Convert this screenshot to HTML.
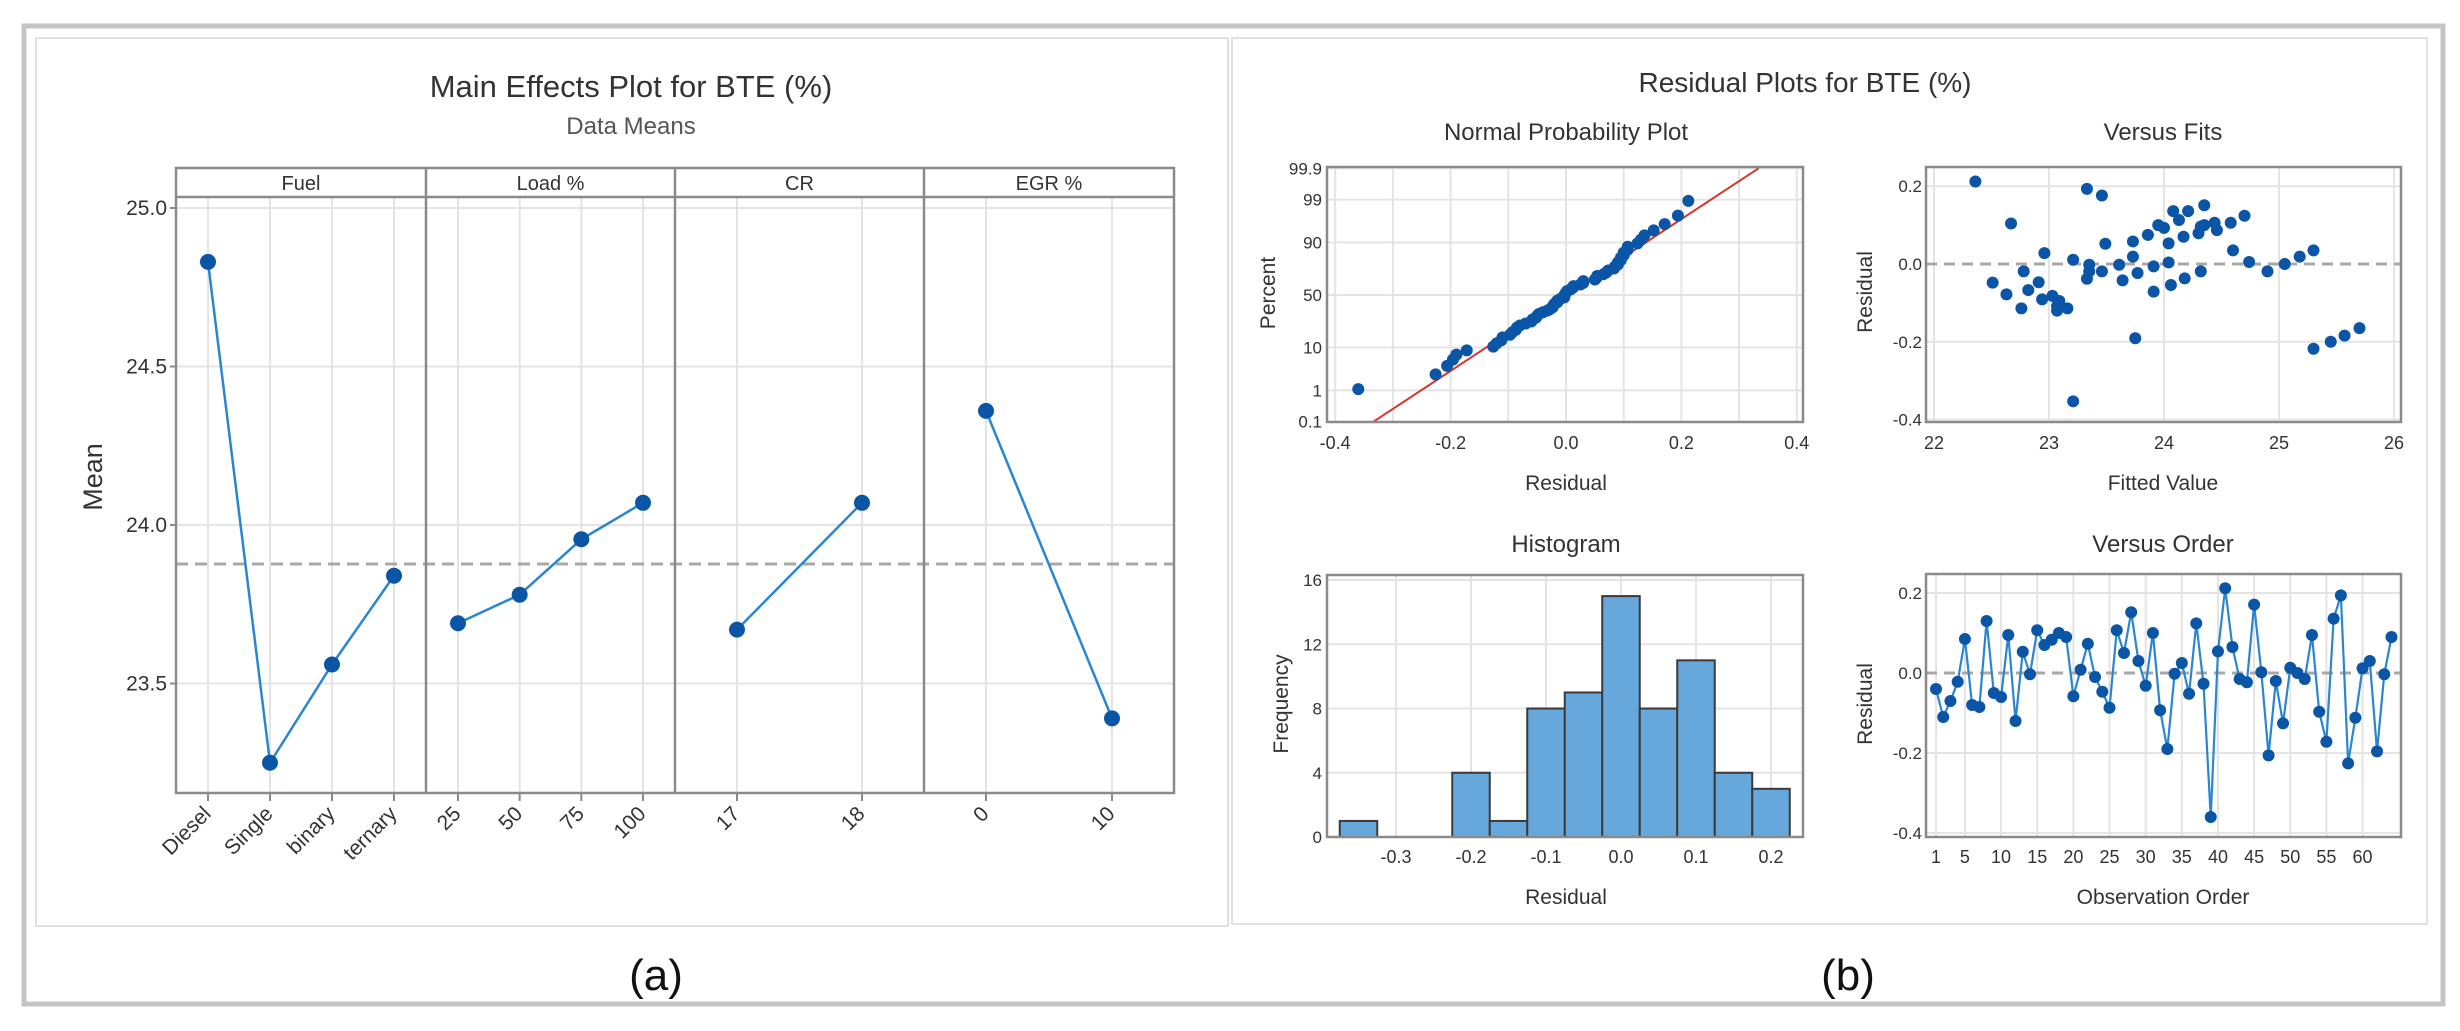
<!DOCTYPE html>
<html><head><meta charset="utf-8"><style>
html,body{margin:0;padding:0;background:#fff}
svg{display:block;font-family:"Liberation Sans",sans-serif}
</style></head><body>
<svg id="c" width="2460" height="1031" viewBox="0 0 2460 1031" xmlns="http://www.w3.org/2000/svg">
<rect x="24" y="26" width="2419" height="978" fill="none" stroke="#c4c4c4" stroke-width="5"/>
<rect x="36" y="38" width="1192" height="888" fill="none" stroke="#e0e0e0" stroke-width="2"/>
<rect x="1232" y="38" width="1195" height="886" fill="none" stroke="#e0e0e0" stroke-width="2"/>
<text x="631" y="97" font-size="31" text-anchor="middle" fill="#333">Main Effects Plot for BTE (%)</text>
<text x="631" y="134" font-size="24" text-anchor="middle" fill="#555">Data Means</text>
<text x="1805" y="92" font-size="28" text-anchor="middle" fill="#333">Residual Plots for BTE (%)</text>
<text x="656" y="990" font-size="44" text-anchor="middle" fill="#111">(a)</text>
<text x="1848" y="990" font-size="44" text-anchor="middle" fill="#111">(b)</text>
<g id="g"></g>
</svg>
<script>
// ---- Main effects data ----
const factorNames = ["Fuel","Load %","CR","EGR %"];
const fuelLevels = ["Diesel","Single","binary","ternary"];
const fuelMeans = [24.83,23.25,23.56,23.84];
const loadLevels = ["25","50","75","100"];
const loadMeans = [23.69,23.78,23.955,24.07];
const crLevels = ["17","18"];
const crMeans = [23.67,24.07];
const egrLevels = ["0","10"];
const egrMeans = [24.36,23.39];
const grandMean = 23.877;
const meTicks = [23.5,24.0,24.5,25.0];
// ---- Residual data ----
const orderResiduals = [-0.04,-0.11,-0.07,-0.022,0.085,-0.08,-0.085,0.13,-0.05,-0.06,0.095,-0.12,0.053,-0.003,0.107,0.07,0.083,0.10,0.09,-0.058,0.008,0.073,-0.01,-0.047,-0.087,0.107,0.05,0.152,0.03,-0.032,0.10,-0.093,-0.19,-0.002,0.025,-0.052,0.124,-0.027,-0.36,0.054,0.212,0.065,-0.015,-0.023,0.171,0.002,-0.206,-0.02,-0.126,0.013,0.0,-0.015,0.095,-0.097,-0.172,0.136,0.194,-0.226,-0.112,0.012,0.03,-0.196,-0.003,0.09];
const fitsX = [22.36,22.51,22.63,22.67,22.76,22.78,22.82,22.91,22.94,22.96,23.03,23.07,23.09,23.07,23.16,23.21,23.21,23.33,23.35,23.33,23.35,23.46,23.46,23.49,23.61,23.64,23.73,23.73,23.75,23.77,23.86,23.91,23.91,23.95,24.0,24.04,24.04,24.06,24.08,24.13,24.17,24.18,24.21,24.30,24.32,24.32,24.35,24.35,24.44,24.46,24.58,24.60,24.70,24.74,24.90,25.05,25.18,25.30,25.30,25.45,25.57,25.70];
const fitsRes = [0.212,-0.048,-0.078,0.104,-0.114,-0.019,-0.067,-0.047,-0.091,0.028,-0.082,-0.108,-0.095,-0.12,-0.114,0.011,-0.353,0.193,-0.002,-0.038,-0.019,0.176,-0.019,0.052,-0.002,-0.042,0.058,0.019,-0.191,-0.023,0.075,-0.006,-0.071,0.1,0.093,0.053,0.004,-0.054,0.136,0.113,0.07,-0.037,0.136,0.079,-0.019,0.096,0.151,0.1,0.106,0.087,0.106,0.035,0.124,0.005,-0.019,0.0,0.019,0.035,-0.218,-0.2,-0.184,-0.165];
const histCenters = [-0.35,-0.30,-0.25,-0.20,-0.15,-0.10,-0.05,0.0,0.05,0.10,0.15,0.20];
const histCounts = [1,0,0,4,1,8,9,15,8,11,4,3];
const npXTicks = [-0.4,-0.2,0.0,0.2,0.4];
const npXTickLabels = ["-0.4","-0.2","0.0","0.2","0.4"];
const npYTicks = [0.1,1,10,50,90,99,99.9];
const npYTickLabels = ["0.1","1","10","50","90","99","99.9"];
const fitXTicks = [22,23,24,25,26];
const resTicks = [0.2,0.0,-0.2,-0.4];
const resTickLabels = ["0.2","0.0","-0.2","-0.4"];
const histXTicks = [-0.3,-0.2,-0.1,0.0,0.1,0.2];
const histXTickLabels = ["-0.3","-0.2","-0.1","0.0","0.1","0.2"];
const histYTicks = [0,4,8,12,16];
const orderTicks = [1,5,10,15,20,25,30,35,40,45,50,55,60];
const lineSigma = 0.108;

const NS="http://www.w3.org/2000/svg";
const G=document.getElementById('g');
function el(tag,attrs,parent,text){const e=document.createElementNS(NS,tag);for(const k in attrs)e.setAttribute(k,attrs[k]);if(text!==undefined)e.textContent=text;(parent||G).appendChild(e);return e;}
const DOT="#0b55a6", LINE="#2b86d0", GRID="#e4e4e4", FRAME="#8a8a8a", TXT="#333";

// ---------- Main effects ----------
const meL=176, meR=1174, meTop=168, stripB=197, meB=793;
const panelX=[176,426,675,924,1174];
function meY(v){return 525-(v-24)*317;}
const levelsAll=[fuelLevels,loadLevels,crLevels,egrLevels];
const meansAll=[fuelMeans,loadMeans,crMeans,egrMeans];
function meX(p,i,n){const pad=n>2?32:62;const l=panelX[p],r=panelX[p+1];return l+pad+i*((r-l-2*pad)/(n-1));}
meTicks.forEach(t=>{
  const gl=el('line',{x1:meL,x2:meR,y1:meY(t),y2:meY(t),stroke:GRID,'stroke-width':2});
  
  
  const tk=el('line',{x1:meL-6,x2:meL,y1:meY(t),y2:meY(t),stroke:FRAME,'stroke-width':2});
  
  
  const tl=el('text',{x:meL-9,y:meY(t)+7,'font-size':21,'text-anchor':'end',fill:TXT},G,t.toFixed(1));
  
  
});
levelsAll.forEach((lv,p)=>{
  lv.forEach((name,i)=>{
    const x=meX(p,i,lv.length);
    const vg=el('line',{x1:x,x2:x,y1:stripB,y2:meB,stroke:GRID,'stroke-width':2});
    
    
    const tk=el('line',{x1:x,x2:x,y1:meB,y2:meB+8,stroke:FRAME,'stroke-width':2});
    
    
    const tl=el('text',{x:x+4,y:meB+22,'font-size':21,'text-anchor':'end',fill:TXT,transform:`rotate(-45 ${x+4} ${meB+22})`},G,name);
    
    
  });
});
const ml=el('line',{x1:meL,x2:meR,y1:meY(grandMean),y2:meY(grandMean),stroke:'#a8a8a8','stroke-width':3,'stroke-dasharray':'12 7'});


levelsAll.forEach((lv,p)=>{
  const pts=meansAll[p].map((v,i)=>[meX(p,i,lv.length),meY(v)]);
  const pl=el('polyline',{points:pts.map(q=>q.join(',')).join(' '),fill:'none',stroke:LINE,'stroke-width':2.5});
  
  
  pts.forEach(q=>{
    const c=el('circle',{cx:q[0],cy:q[1],r:8,fill:DOT});
    
    
  });
});
const fr=el('rect',{x:meL,y:meTop,width:meR-meL,height:meB-meTop,fill:'none',stroke:FRAME,'stroke-width':2.5});


const sb=el('line',{x1:meL,x2:meR,y1:stripB,y2:stripB,stroke:FRAME,'stroke-width':2.5});


factorNames.forEach((f,p)=>{
  if(p>0){const d=el('line',{x1:panelX[p],x2:panelX[p],y1:meTop,y2:meB,stroke:FRAME,'stroke-width':2.5});
  
  }
  const t=el('text',{x:(panelX[p]+panelX[p+1])/2,y:190,'font-size':20,'text-anchor':'middle',fill:TXT},G,f);
  
  
});
const my=el('text',{x:102,y:477,'font-size':27,'text-anchor':'middle',fill:TXT,transform:'rotate(-90 102 477)'},G,'Mean');



function frame(x0,y0,x1,y1,name){const r=el('rect',{x:x0,y:y0,width:x1-x0,height:y1-y0,fill:'none',stroke:FRAME,'stroke-width':2.5});}
function txt(x,y,s,size,anchor,name,rot,fill){const a={x:x,y:y,'font-size':size,'text-anchor':anchor,fill:fill||TXT};if(rot)a.transform=`rotate(-90 ${x} ${y})`;const t=el('text',a,G,s);return t;}
function vline(x,y0,y1,name){const l=el('line',{x1:x,x2:x,y1:y0,y2:y1,stroke:GRID,'stroke-width':2});}
function hline(y,x0,x1,name){const l=el('line',{x1:x0,x2:x1,y1:y,y2:y,stroke:GRID,'stroke-width':2});}
function dot(x,y,r,name){const c=el('circle',{cx:x,cy:y,r:r,fill:DOT});}
function invNorm(p){const a=[-39.6968302866538,220.946098424521,-275.928510446969,138.357751867269,-30.6647980661472,2.50662827745924],b=[-54.4760987982241,161.585836858041,-155.698979859887,66.8013118877197,-13.2806815528857],c=[-0.00778489400243029,-0.322396458041136,-2.40075827716184,-2.54973253934373,4.37466414146497,2.93816398269878],d=[0.00778469570904146,0.32246712907004,2.445134137143,3.75440866190742];const pl=0.02425;let q,r;if(p<pl){q=Math.sqrt(-2*Math.log(p));return(((((c[0]*q+c[1])*q+c[2])*q+c[3])*q+c[4])*q+c[5])/((((d[0]*q+d[1])*q+d[2])*q+d[3])*q+1);}if(p>1-pl){q=Math.sqrt(-2*Math.log(1-p));return-(((((c[0]*q+c[1])*q+c[2])*q+c[3])*q+c[4])*q+c[5])/((((d[0]*q+d[1])*q+d[2])*q+d[3])*q+1);}q=p-0.5;r=q*q;return(((((a[0]*r+a[1])*r+a[2])*r+a[3])*r+a[4])*r+a[5])*q/(((((b[0]*r+b[1])*r+b[2])*r+b[3])*r+b[4])*r+1);}

// ---------- Normal probability plot ----------
const np={x0:1327,x1:1803,y0:167,y1:422};
const npX=v=>1566+v*577, npY=z=>295-z*41;
txt(1566,140,'Normal Probability Plot',24,'middle','normal-plot-title');
for(let v=-0.4;v<=0.401;v+=0.1) vline(npX(v),np.y0,np.y1,'np-vgrid');
npYTicks.forEach((p,i)=>{const y=npY(invNorm(p/100));hline(y,np.x0,np.x1,'np-hgrid');txt(np.x0-5,y+6,npYTickLabels[i],17,'end','np-y-tick-label');});
npXTicks.forEach((v,i)=>txt(npX(v),449,npXTickLabels[i],18,'middle','np-x-tick-label'));
const zTop=invNorm(0.999), zBot=invNorm(0.001);
const rl=el('line',{x1:npX(zBot*lineSigma),y1:npY(zBot),x2:npX(zTop*lineSigma),y2:npY(zTop),stroke:'#d9342b','stroke-width':2});


const sorted=orderResiduals.slice().sort((a,b)=>a-b);
sorted.forEach((v,i)=>{const p=(i+1-0.3)/(sorted.length+0.4);dot(npX(v),npY(invNorm(p)),6,'np-point');});
frame(np.x0,np.y0,np.x1,np.y1,'normal-plot-frame');
txt(1566,490,'Residual',21,'middle','np-x-axis-title');
txt(1275,293,'Percent',21,'middle','np-y-axis-title',true);

// ---------- Versus fits ----------
const vf={x0:1926,x1:2401,y0:167,y1:422};
const vfX=v=>1934+(v-22)*115, vfY=v=>264-v*389;
txt(2163,140,'Versus Fits',24,'middle','versus-fits-title');
fitXTicks.forEach(t=>{vline(vfX(t),vf.y0,vf.y1,'vf-vgrid');txt(vfX(t),449,String(t),18,'middle','vf-x-tick-label');});
resTicks.forEach((t,i)=>{if(t!==0)hline(vfY(t),vf.x0,vf.x1,'vf-hgrid');txt(vf.x0-4,vfY(t)+6,resTickLabels[i],17,'end','vf-y-tick-label');});
const z1=el('line',{x1:vf.x0,x2:vf.x1,y1:vfY(0),y2:vfY(0),stroke:'#a8a8a8','stroke-width':3,'stroke-dasharray':'11 7'});


fitsX.forEach((f,i)=>dot(vfX(f),vfY(fitsRes[i]),6,'vf-point'));
frame(vf.x0,vf.y0,vf.x1,vf.y1,'versus-fits-frame');
txt(2163,490,'Fitted Value',21,'middle','vf-x-axis-title');
txt(1872,292,'Residual',21,'middle','vf-y-axis-title',true);

// ---------- Histogram ----------
const hg={x0:1327,x1:1803,y0:575,y1:837};
const hX=v=>1621+v*750, hY=c=>837-c*16.06;
txt(1566,552,'Histogram',24,'middle','histogram-title');
histXTicks.forEach((t,i)=>{vline(hX(t),hg.y0,hg.y1,'hist-vgrid');txt(hX(t),863,histXTickLabels[i],18,'middle','hist-x-tick-label');});
histYTicks.forEach(t=>{if(t>0)hline(hY(t),hg.x0,hg.x1,'hist-hgrid');txt(hg.x0-5,hY(t)+6,String(t),17,'end','hist-y-tick-label');});
histCenters.forEach((c,i)=>{if(histCounts[i]>0){const b=el('rect',{x:hX(c-0.025),y:hY(histCounts[i]),width:hX(c+0.025)-hX(c-0.025),height:hY(0)-hY(histCounts[i]),fill:'#66a8db',stroke:'#3a3a3a','stroke-width':2});}});
const hb=el('line',{x1:hX(-0.375),x2:hX(0.225),y1:hY(0),y2:hY(0),stroke:'#3a3a3a','stroke-width':2});


frame(hg.x0,hg.y0,hg.x1,hg.y1,'histogram-frame');
txt(1566,904,'Residual',21,'middle','hist-x-axis-title');
txt(1288,704,'Frequency',21,'middle','hist-y-axis-title',true);

// ---------- Versus order ----------
const vo={x0:1926,x1:2401,y0:574,y1:837};
const oX=n=>1936+(n-1)*7.23, oY=v=>673-v*400;
txt(2163,552,'Versus Order',24,'middle','versus-order-title');
orderTicks.forEach(t=>{vline(oX(t),vo.y0,vo.y1,'vo-vgrid');txt(oX(t),863,String(t),18,'middle','vo-x-tick-label');});
resTicks.forEach((t,i)=>{if(t!==0)hline(oY(t),vo.x0,vo.x1,'vo-hgrid');txt(vo.x0-4,oY(t)+6,resTickLabels[i],17,'end','vo-y-tick-label');});
const z2=el('line',{x1:vo.x0,x2:vo.x1,y1:oY(0),y2:oY(0),stroke:'#a8a8a8','stroke-width':3,'stroke-dasharray':'11 7'});


const opl=el('polyline',{points:orderResiduals.map((v,i)=>oX(i+1)+','+oY(v)).join(' '),fill:'none',stroke:LINE,'stroke-width':2.2});


orderResiduals.forEach((v,i)=>dot(oX(i+1),oY(v),6,'vo-point'));
frame(vo.x0,vo.y0,vo.x1,vo.y1,'versus-order-frame');
txt(2163,904,'Observation Order',21,'middle','vo-x-axis-title');
txt(1872,704,'Residual',21,'middle','vo-y-axis-title',true);
</script>
</body></html>
